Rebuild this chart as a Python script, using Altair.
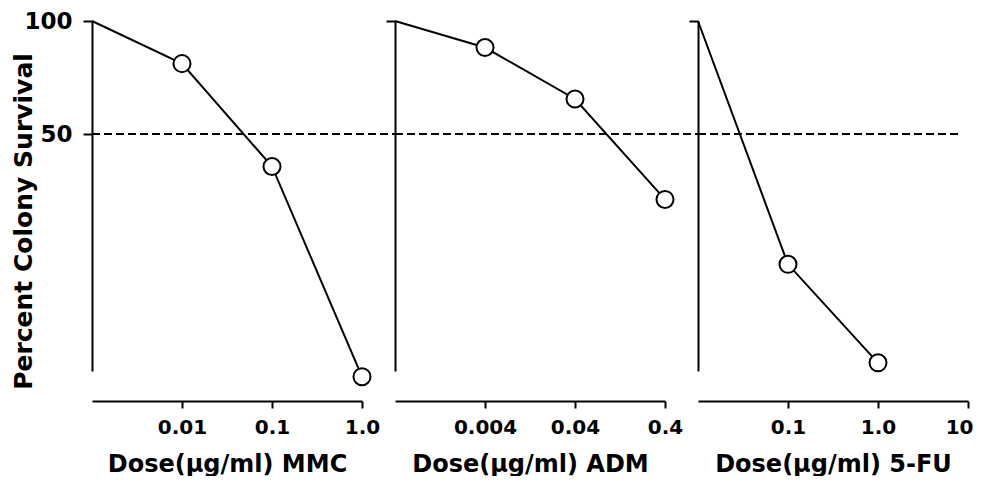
import altair as alt
import pandas as pd

# ---------------- data ----------------
x_titles = ["Dose(μg/ml) MMC", "Dose(μg/ml) ADM", "Dose(μg/ml) 5-FU"]

mmc_dose = [0.001, 0.01, 0.1, 1.0]
mmc_surv = [100, 77, 41, 11.3]
mmc_marker = [False, True, True, True]

adm_dose = [0.0004, 0.004, 0.04, 0.4]
adm_surv = [100, 85, 62, 33.5]
adm_marker = [False, True, True, True]

fu_dose = [0.01, 0.1, 1.0]
fu_surv = [100, 22.5, 12.3]
fu_marker = [False, True, True]

x_domains = [[0.001, 1.0], [0.0004, 0.4], [0.01, 10]]
tick_values = [[0.01, 0.1, 1.0], [0.004, 0.04, 0.4], [0.1, 1.0, 10]]
tick_labels = [["0.01", "0.1", "1.0"], ["0.004", "0.04", "0.4"], ["0.1", "1.0", "10"]]
ref_extent = [[0.001, 2.33], [0.0004, 0.93], [0.01, 7.8]]

y_domain = [11.7, 100]
y_ticks = [50, 100]
y_labels = ["50", "100"]
ref_level = 50
y_title = "Percent Colony Survival"

FONT = "DejaVu Sans"
W, H = 270, 350


def label_expr(vals, labs):
    expr = "''"
    for v, l in reversed(list(zip(vals, labs))):
        expr = f"abs(datum.value - {v}) < {v * 0.01} ? '{l}' : ({expr})"
    return expr


def panel(i, dose, surv, marker):
    df = pd.DataFrame({"dose": dose, "surv": surv, "marker": marker})
    ref = pd.DataFrame({"x": [ref_extent[i][0]], "x2": [ref_extent[i][1]], "y": [ref_level]})

    xscale = alt.Scale(type="log", domain=x_domains[i], nice=False)
    yscale = alt.Scale(type="log", domain=y_domain, nice=False)

    axis_kw = dict(
        values=tick_values[i],
        labelExpr=label_expr(tick_values[i], tick_labels[i]),
        title=x_titles[i],
        offset=30,
        tickSize=7,
        labelPadding=9,
        titlePadding=15,
        labelFontSize=20,
        labelFontWeight="bold",
        titleFontSize=24,
        titleFontWeight="bold",
    )
    if i == 2:
        axis_kw.update(labelFlush=True, labelFlushOffset=5)
    else:
        axis_kw.update(labelFlush=False)
    xaxis = alt.Axis(**axis_kw)

    if i == 0:
        yaxis = alt.Axis(
            values=y_ticks,
            labelExpr=label_expr(y_ticks, y_labels),
            title=y_title,
            tickSize=9,
            labelPadding=11,
            labelFontSize=23,
            labelFontWeight="bold",
            titleFontSize=25,
            titleFontWeight="bold",
            titleAngle=270,
            titleBaseline="middle",
            titleAlign="center",
            titleX=-69,
            titleY=200,
        )
    else:
        yaxis = alt.Axis(values=[100], labels=False, title=None, tickSize=9)

    line = alt.Chart(df).mark_line(color="black", strokeWidth=2).encode(
        x=alt.X("dose:Q", scale=xscale, axis=xaxis),
        y=alt.Y("surv:Q", scale=yscale, axis=yaxis),
    )
    pts = alt.Chart(df).transform_filter("datum.marker").mark_circle(
        size=290, fill="white", stroke="black", strokeWidth=2, opacity=1
    ).encode(x=alt.X("dose:Q", scale=xscale), y=alt.Y("surv:Q", scale=yscale))
    rule = alt.Chart(ref).mark_rule(color="black", strokeWidth=2, strokeDash=[8, 4]).encode(
        x=alt.X("x:Q", scale=xscale), x2="x2:Q", y=alt.Y("y:Q", scale=yscale)
    )
    return alt.layer(rule, line, pts).properties(width=W, height=H)


chart = alt.hconcat(
    panel(0, mmc_dose, mmc_surv, mmc_marker),
    panel(1, adm_dose, adm_surv, adm_marker),
    panel(2, fu_dose, fu_surv, fu_marker),
    spacing=33,
    bounds="flush",
).properties(
    padding={"top": 2, "left": 2, "right": 0, "bottom": 0},
    background="white",
).configure_view(stroke=None).configure_axis(
    grid=False,
    domainColor="black",
    domainWidth=2,
    tickColor="black",
    tickWidth=2,
    labelColor="black",
    titleColor="black",
    labelFont=FONT,
    titleFont=FONT,
)

chart.save("out.html", embed_options={"renderer": "svg", "actions": False})
